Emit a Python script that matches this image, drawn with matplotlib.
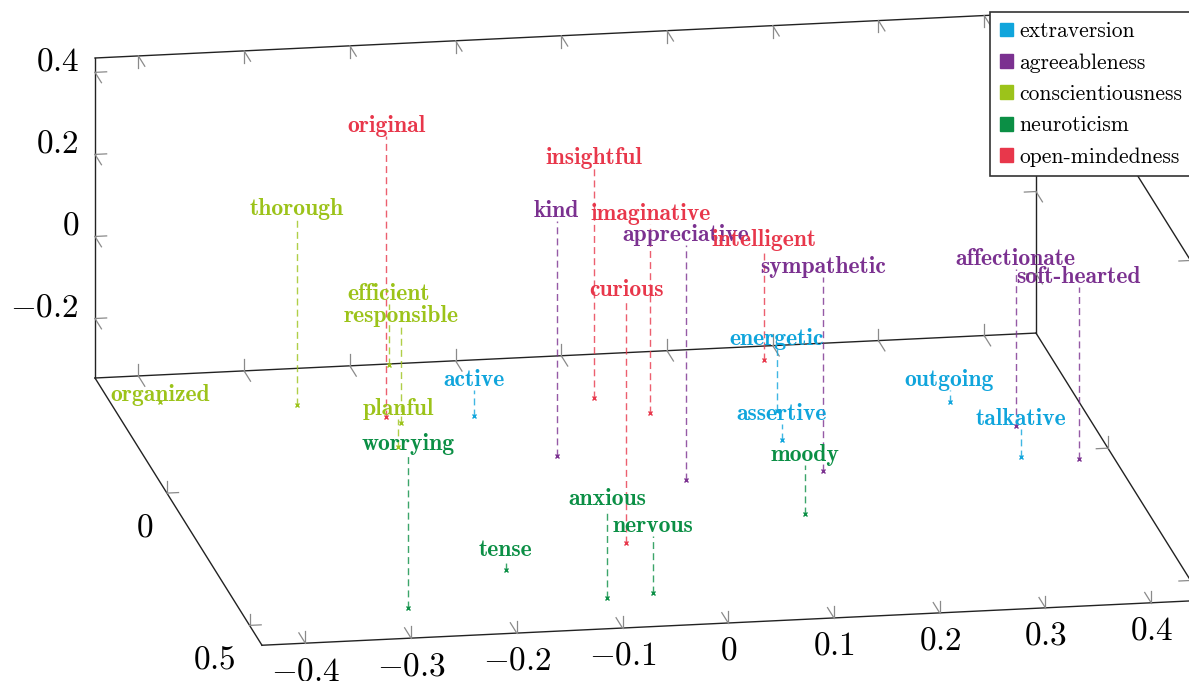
import numpy as np
import matplotlib
matplotlib.use("Agg")
import matplotlib.pyplot as plt
from matplotlib.patches import Patch
from mpl_toolkits.mplot3d import proj3d

plt.rcParams['mathtext.fontset'] = 'cm'

# Big-Five trait words, 3D embedding
traits = ['extraversion', 'agreeableness', 'conscientiousness', 'neuroticism', 'open-mindedness']
trait_colors = ['#10a5dc', '#7b3190', '#9cc31a', '#0b8f45', '#e8374b']

words = ['active', 'energetic', 'assertive', 'outgoing', 'talkative',
         'kind', 'appreciative', 'sympathetic', 'affectionate', 'soft-hearted',
         'thorough', 'efficient', 'responsible', 'planful', 'organized',
         'worrying', 'tense', 'anxious', 'nervous', 'moody',
         'original', 'insightful', 'imaginative', 'intelligent', 'curious']
word_trait = [0] * 5 + [1] * 5 + [2] * 5 + [3] * 5 + [4] * 5
word_x = [-0.115, 0.166, 0.154, 0.330, 0.364,
          -0.062, 0.043, 0.174, 0.377, 0.416,
          -0.271, -0.164, -0.186, -0.202, -0.395,
          -0.286, -0.174, -0.097, -0.052, 0.133,
          -0.196, 0.006, 0.049, 0.184, -0.048]
word_y = [-0.229, -0.194, -0.087, -0.197, 0.018,
          -0.067, 0.043, 0.034, -0.097, 0.035,
          -0.300, -0.430, -0.216, -0.128, -0.335,
          0.465, 0.342, 0.463, 0.453, 0.189,
          -0.241, -0.274, -0.209, -0.384, 0.264]
word_z = [-0.272, -0.184, -0.296, -0.306, -0.267,
          0.238, 0.238, 0.138, 0.048, 0.084,
          0.118, -0.186, -0.099, -0.267, -0.342,
          0.040, -0.311, -0.118, -0.196, -0.216,
          0.350, 0.226, 0.126, -0.067, 0.257]

x_ticks = [-0.4, -0.3, -0.2, -0.1, 0.0, 0.1, 0.2, 0.3, 0.4]
y_ticks = [0.0, 0.5]
z_ticks = [-0.2, 0.0, 0.2, 0.4]
x_lim = (-0.441, 0.449)
y_lim = (-0.435, 0.575)
z_lim = (-0.345, 0.435)


def fmt(v):
    s = '%g' % round(v, 2)
    return r'$%s$' % s


fig = plt.figure(figsize=(11.89, 6.81), dpi=100)
ax = fig.add_axes([0, 0, 1, 1], projection='3d', proj_type='ortho', computed_zorder=False)
ax.set_axis_off()
ax.set_xlim(*x_lim)
ax.set_ylim(y_lim[1], y_lim[0])
ax.set_zlim(*z_lim)
ax.view_init(elev=16.05, azim=-99.8)
ax.set_box_aspect((955, 981, 333))

x0, x1 = x_lim
y0, y1 = y_lim
z0, z1 = z_lim

# box edges (the three around the near top-left corner are left out)
edge_kw = dict(color='#222222', lw=1.0, zorder=1)
ax.plot([x0, x1], [y0, y0], [z0, z0], **edge_kw)
ax.plot([x0, x1], [y1, y1], [z0, z0], **edge_kw)
ax.plot([x0, x0], [y0, y1], [z0, z0], **edge_kw)
ax.plot([x1, x1], [y0, y1], [z0, z0], **edge_kw)
ax.plot([x0, x0], [y0, y0], [z0, z1], **edge_kw)
ax.plot([x1, x1], [y0, y0], [z0, z1], **edge_kw)
ax.plot([x1, x1], [y1, y1], [z0, z1], **edge_kw)
ax.plot([x0, x1], [y0, y0], [z1, z1], **edge_kw)
ax.plot([x1, x1], [y0, y1], [z1, z1], **edge_kw)

# little 3d ticks, two strokes each
tk = dict(color='#8a8a8a', lw=0.9, zorder=1)
lx, ly, lz = 0.011, 0.039, 0.029
for v in x_ticks:
    ax.plot([v, v], [y0, y0], [z0, z0 + lz], **tk)
    ax.plot([v, v], [y0, y0 + ly], [z0, z0], **tk)
    ax.plot([v, v], [y1, y1], [z0, z0 + lz], **tk)
    ax.plot([v, v], [y1, y1 - ly], [z0, z0], **tk)
    ax.plot([v, v], [y0, y0], [z1, z1 - lz], **tk)
    ax.plot([v, v], [y0, y0 + ly], [z1, z1], **tk)
for v in z_ticks:
    ax.plot([x0, x0 + lx], [y0, y0], [v, v], **tk)
    ax.plot([x0, x0], [y0, y0 + ly], [v, v], **tk)
    ax.plot([x1, x1 - lx], [y0, y0], [v, v], **tk)
    ax.plot([x1, x1], [y0, y0 + ly], [v, v], **tk)
    ax.plot([x1, x1 - lx], [y1, y1], [v, v], **tk)
    ax.plot([x1, x1], [y1, y1 - ly], [v, v], **tk)
for v in y_ticks:
    ax.plot([x0, x0 + lx], [v, v], [z0, z0], **tk)
    ax.plot([x0, x0], [v, v], [z0, z0 + lz], **tk)
    ax.plot([x1, x1 - lx], [v, v], [z0, z0], **tk)
    ax.plot([x1, x1], [v, v], [z0, z0 + lz], **tk)
    ax.plot([x1, x1 - lx], [v, v], [z1, z1], **tk)
    ax.plot([x1, x1], [v, v], [z1, z1 - lz], **tk)

# tick labels
for v in x_ticks:
    ax.text(v - 0.006, y1 + 0.04, z0, fmt(v), ha='center', va='top', fontsize=24, zorder=3)
for v in z_ticks:
    ax.text(x0 - 0.008, y0 - 0.045, v, fmt(v), ha='right', va='center', fontsize=24, zorder=3)
for v in y_ticks:
    ax.text(x0 - 0.013, v, z0 - 0.04, fmt(v), ha='right', va='top', fontsize=24, zorder=3)

# words: stem from the floor up to the label
for w, t, x, y, z in zip(words, word_trait, word_x, word_y, word_z):
    c = trait_colors[t]
    ax.plot([x, x], [y, y], [z0, max(z - 0.01, z0)], color=c, lw=1.0, alpha=0.8,
            linestyle=(0, (5, 3)), zorder=2)
    ax.plot([x], [y], [z0], marker='x', ms=3.5, mew=1.0, color=c, zorder=2.5)
    ax.text(x, y, z, w, ha='center', va='baseline', color=c, fontsize=17,
            family='cmb10', zorder=3)

handles = [Patch(facecolor=c, edgecolor=c) for c in trait_colors]
leg = fig.legend(handles, traits, loc='upper left', bbox_to_anchor=(990 / 1189, 1 - 12 / 681),
                 borderaxespad=0, frameon=True, fancybox=False, edgecolor='#333333',
                 framealpha=1, prop={'family': 'cmr10', 'size': 15.5}, handlelength=0.6,
                 handleheight=0.6, handletextpad=0.3, borderpad=0.45, labelspacing=0.55)
leg.get_frame().set_linewidth(1.2)
leg.set_zorder(10)

# fit the box onto the page: back floor edge from (95,378) to (1036,333) px
fig.canvas.draw()


def screen(x, y, z):
    px, py, _ = proj3d.proj_transform(x, y, z, ax.M)
    return ax.transData.transform((px, py))


p1 = screen(x0, y0, z0)
p2 = screen(x1, y0, z0)
t1 = np.array([95.0, 681 - 378.0])
t2 = np.array([1036.0, 681 - 333.0])
k = np.linalg.norm(t2 - t1) / np.linalg.norm(p2 - p1)
d = t1 - k * p1
bb = ax.get_position(original=True)
W, H = fig.bbox.width, fig.bbox.height
ax.set_position([(k * bb.x0 * W + d[0]) / W, (k * bb.y0 * H + d[1]) / H,
                 k * bb.width, k * bb.height])

fig.savefig('out.png', dpi=100)
